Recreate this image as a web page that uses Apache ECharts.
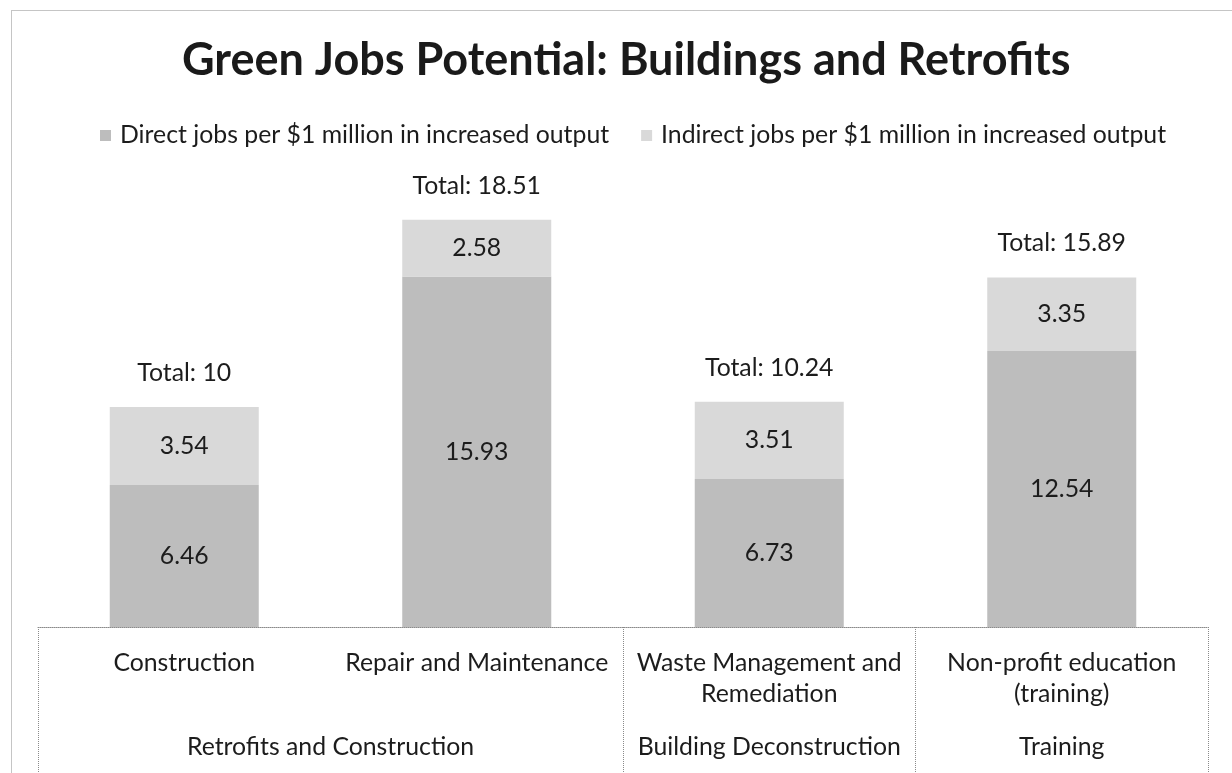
<!DOCTYPE html>
<html>
<head>
<meta charset="utf-8">
<title>Green Jobs Potential: Buildings and Retrofits</title>
<script src="https://cdn.jsdelivr.net/npm/echarts@6/dist/echarts.min.js"></script>
<style>
  html, body { margin: 0; padding: 0; background: #fff; }
  #chart { width: 1232px; height: 773px; }
</style>
</head>
<body>
<div id="chart"></div>
<script>
// Job categories (first level of the x axis)
const categories = [
  'Construction',
  'Repair and Maintenance',
  'Waste Management and\nRemediation',
  'Non-profit education\n(training)'
];
// Groups (second level of the x axis) and how many categories each covers
const groups = ['Retrofits and Construction', 'Building Deconstruction', 'Training'];
const groupSizes = [2, 1, 1];

const seriesNames = [
  'Direct jobs per $1 million in increased output',
  'Indirect jobs per $1 million in increased output'
];
const directJobs = [6.46, 15.93, 6.73, 12.54];
const indirectJobs = [3.54, 2.58, 3.51, 3.35];

const totals = directJobs.map((d, i) => +(d + indirectJobs[i]).toFixed(2));

// Group boundaries and centres along the category span
const groupEdges = [0];
groupSizes.forEach(s => groupEdges.push(groupEdges[groupEdges.length - 1] + s));
const groupCenters = groupSizes.map((s, i) => groupEdges[i] + s / 2);

const FONT = 'Lato, "Open Sans", sans-serif';
const TEXT = '#1c1c1c';
const FRAME = '#8a8a8a';
const FS = 24.8;

const chart = echarts.init(document.getElementById('chart'), null, { renderer: 'canvas' });

chart.setOption({
  animation: false,
  backgroundColor: '#ffffff',
  textStyle: { fontFamily: FONT, color: TEXT },
  title: {
    text: 'Green Jobs Potential: Buildings and Retrofits',
    left: 177,
    top: 33,
    textStyle: { fontFamily: FONT, fontSize: 45, fontWeight: 'bold', color: '#1a1a1a' }
  },
  legend: {
    data: seriesNames,
    top: 118,
    left: 95,
    icon: 'rect',
    itemWidth: 11,
    itemHeight: 11,
    itemGap: 32,
    textStyle: { fontFamily: FONT, fontSize: FS, color: TEXT, padding: [0, 0, 0, 4] }
  },
  grid: {
    left: 38,
    right: 24,
    top: 187,
    bottom: 146,
    containLabel: false,
    outerBoundsMode: 'none'
  },
  xAxis: [
    {
      type: 'category',
      data: categories,
      position: 'bottom',
      axisLine: { show: true, lineStyle: { color: FRAME, width: 1, type: 'dotted' } },
      axisTick: { show: false },
      axisLabel: {
        interval: 0,
        margin: 21,
        fontFamily: FONT,
        fontSize: FS,
        lineHeight: 31,
        color: TEXT,
        align: 'center'
      },
      splitLine: { show: false }
    },
    {
      type: 'value',
      min: 0,
      max: categories.length,
      position: 'bottom',
      axisLine: { show: false },
      axisTick: {
        show: true,
        customValues: groupEdges,
        length: 150,
        inside: false,
        lineStyle: { color: FRAME, width: 1, type: 'dotted' }
      },
      axisLabel: {
        show: true,
        customValues: groupCenters,
        formatter: v => {
          const i = groupCenters.findIndex(c => Math.abs(c - v) < 1e-6);
          return i >= 0 ? groups[i] : '';
        },
        margin: 105,
        fontFamily: FONT,
        fontSize: FS,
        lineHeight: 31,
        color: TEXT
      },
      splitLine: { show: false }
    }
  ],
  yAxis: {
    type: 'value',
    min: 0,
    max: 20,
    show: false,
    splitLine: { show: false }
  },
  series: [
    {
      name: seriesNames[0],
      type: 'bar',
      stack: 'jobs',
      data: directJobs,
      barWidth: 149,
      itemStyle: { color: '#bdbdbd' },
      label: {
        show: true,
        position: 'inside',
        fontFamily: FONT,
        fontSize: FS,
        color: TEXT
      }
    },
    {
      name: seriesNames[1],
      type: 'bar',
      stack: 'jobs',
      data: indirectJobs,
      barWidth: 149,
      itemStyle: { color: '#d9d9d9' },
      label: {
        show: true,
        position: 'inside',
        fontFamily: FONT,
        fontSize: FS,
        color: TEXT
      }
    },
    {
      // Invisible carrier for the "Total" labels above each stack
      name: 'Total',
      type: 'line',
      data: totals,
      symbol: 'circle',
      symbolSize: 1,
      showSymbol: true,
      itemStyle: { color: 'rgba(0,0,0,0)' },
      lineStyle: { width: 0, opacity: 0 },
      silent: true,
      label: {
        show: true,
        position: 'top',
        distance: 21,
        formatter: p => 'Total: ' + p.value,
        fontFamily: FONT,
        fontSize: FS,
        color: TEXT
      },
      z: 5
    }
  ],
  graphic: [
    {
      type: 'rect',
      silent: true,
      shape: { x: 11.5, y: 10.5, width: 1240, height: 800 },
      style: { fill: 'none', stroke: FRAME, lineWidth: 1, lineDash: [1, 1] }
    }
  ]
});
</script>
</body>
</html>
